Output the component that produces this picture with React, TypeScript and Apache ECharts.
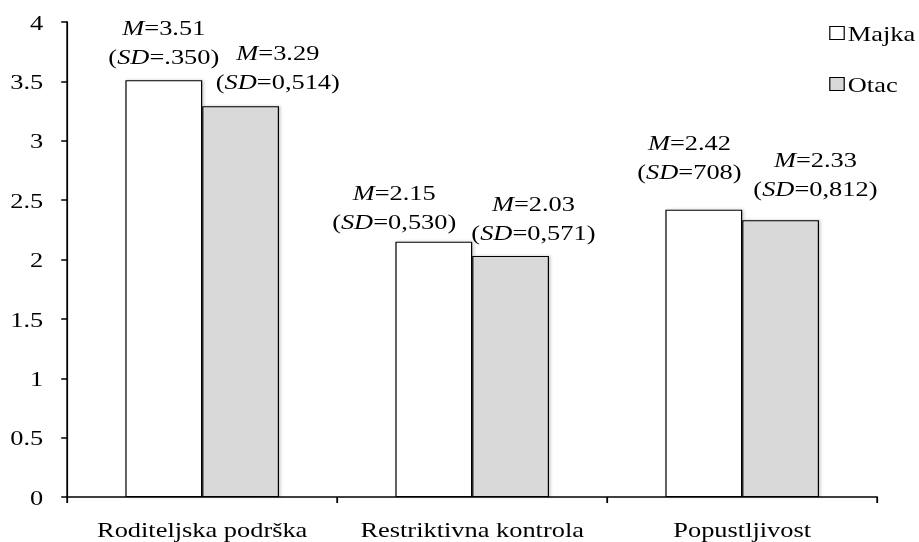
import React, { useEffect, useRef } from "react";
import * as echarts from "echarts";

const categories = ["Roditeljska podrška", "Restriktivna kontrola", "Popustljivost"];
const seriesNames = ["Majka", "Otac"];
const majkaValues = [3.51, 2.15, 2.42];
const otacValues = [3.29, 2.03, 2.33];
const majkaSD = [".350", "0,530", "708"];
const otacSD = ["0,514", "0,571", "0,812"];

// manual label placement (as in the original figure), in chart px
const majkaLabelOffsets = [[0, -9], [-33, -6], [-12, -23.5]];
const otacLabelOffsets = [[31, -11], [19, -9.5], [29, -17.5]];

const FONT = "Liberation Serif";
const STRETCH = 1.2; // the original figure is horizontally stretched
const W = 766;
const H = 542;

export default function App() {
  const ref = useRef<HTMLDivElement>(null);
  useEffect(() => {
    document.body.style.margin = "0";
    const chart = echarts.init(ref.current!, null, { renderer: "svg" });
    const rich = {
      i: { fontFamily: FONT, fontSize: 22, fontStyle: "italic", color: "#000", lineHeight: 29 },
      n: { fontFamily: FONT, fontSize: 22, color: "#000", lineHeight: 29 },
    };
    const makeData = (vals: number[], sds: string[], offs: number[][]) =>
      vals.map((v, i) => ({
        value: v,
        label: {
          offset: offs[i],
          formatter: `{i|M}{n|=${v.toFixed(2)}}\n{n|(}{i|SD}{n|=${sds[i]})}`,
        },
      }));
    const barStyle = (color: string) => ({
      color,
      borderColor: "#000",
      borderWidth: 1,
      shadowColor: "rgba(0,0,0,0.22)",
      shadowBlur: 3,
      shadowOffsetX: 1.2,
    });
    const baseLabel = {
      show: true,
      position: "top" as const,
      distance: 0,
      fontFamily: FONT,
      fontSize: 22,
      lineHeight: 29,
      rich,
    };
    chart.setOption({
      animation: false,
      textStyle: { fontFamily: FONT, fontSize: 22 },
      grid: { left: 56, right: 35, top: 22, bottom: 45, containLabel: false },
      legend: {
        data: seriesNames,
        orient: "vertical",
        left: 686,
        top: 17,
        padding: 5,
        itemWidth: 12,
        itemHeight: 13,
        itemGap: 29,
        icon: "rect",
        itemStyle: { borderColor: "#000", borderWidth: 1, shadowBlur: 0, shadowOffsetX: 0 },
        textStyle: { fontFamily: FONT, fontSize: 22, color: "#000", padding: [0, 0, 0, -2] },
      },
      xAxis: {
        type: "category",
        data: categories,
        axisLine: { lineStyle: { color: "#000", width: 1.5 } },
        axisTick: { show: true, length: 6, lineStyle: { color: "#000", width: 1.5 } },
        axisLabel: { interval: 0, fontFamily: FONT, fontSize: 22, color: "#000", margin: 21 },
      },
      yAxis: {
        type: "value",
        min: 0,
        max: 4,
        interval: 0.5,
        splitLine: { show: false },
        axisLine: { show: true, lineStyle: { color: "#000", width: 1.5 } },
        axisTick: { show: true, length: 5, lineStyle: { color: "#000", width: 1.5 } },
        axisLabel: { fontFamily: FONT, fontSize: 22, color: "#000", margin: 20 },
      },
      series: [
        {
          name: seriesNames[0],
          type: "bar",
          data: makeData(majkaValues, majkaSD, majkaLabelOffsets),
          barWidth: 64,
          barGap: "0%",
          itemStyle: barStyle("#ffffff"),
          label: baseLabel,
        },
        {
          name: seriesNames[1],
          type: "bar",
          data: makeData(otacValues, otacSD, otacLabelOffsets),
          barWidth: 64,
          barGap: "0%",
          itemStyle: barStyle("#d9d9d9"),
          label: baseLabel,
        },
      ],
    });
    return () => chart.dispose();
  }, []);
  return (
    <div style={{ width: 919, height: H, overflow: "hidden", position: "relative" }}>
      <div
        ref={ref}
        style={{
          width: W,
          height: H,
          transform: `scaleX(${STRETCH})`,
          transformOrigin: "0 0",
        }}
      />
    </div>
  );
}
